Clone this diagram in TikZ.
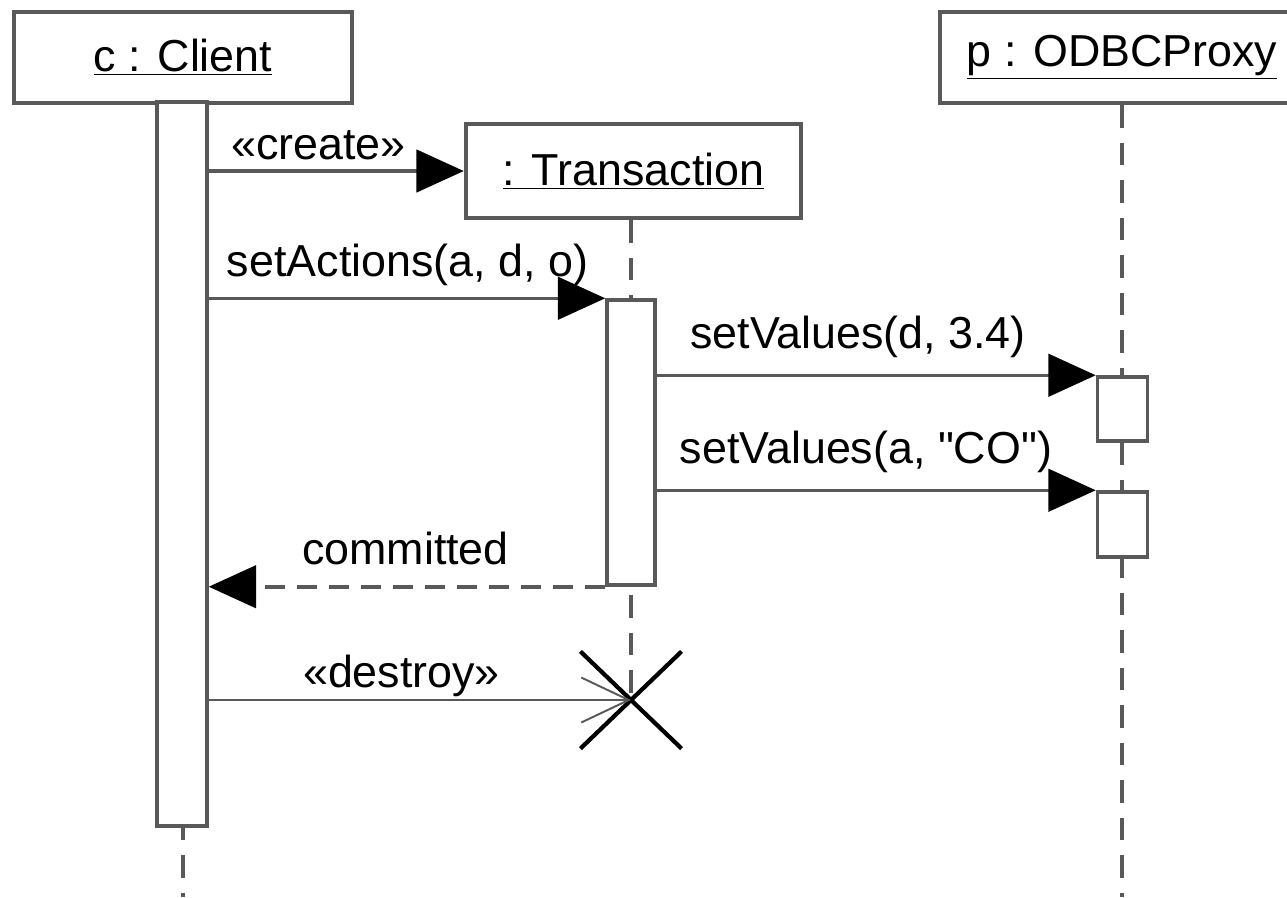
\documentclass[tikz,border=0pt]{standalone}
\usepackage{fontspec}
\setmainfont{Liberation Sans}
\usetikzlibrary{
    arrows.meta,
    calc,
    positioning,
    shapes.misc
}
\definecolor{linegray}{gray}{0.35}
\tikzset{
    every picture/.style = {
        x = 0.02cm,
        y = -0.02cm
    },
    object/.style = {
        draw = linegray,
        line width = 2.6pt,
        fill = white,
        inner sep = 0pt,
        font = \fontsize{25.5}{30}\selectfont
    },
    activation/.style = {
        draw = linegray,
        line width = 2pt,
        fill = white,
        inner sep = 0pt,
        minimum width = 1cm
    },
    lifeline/.style = {
        draw = linegray,
        line width = 1.8pt,
        dash pattern = on 0.45cm off 0.3cm
    },
    call/.style = {
        draw = linegray,
        line width = 2pt,
        -{Triangle[length = 0.95cm, width = 0.85cm, color = black]}
    },
    reply/.style = {
        call,
        dash pattern = on 0.4cm off 0.24cm
    },
    destroycall/.style = {
        draw = linegray,
        line width = 1.1pt,
        -{Straight Barb[length = 0.95cm, width = 0.9cm, line width = 1.1pt]}
    },
    msglabel/.style = {
        inner sep = 0pt,
        font = \fontsize{25.5}{30}\selectfont
    }
}

\begin{document}
\begin{tikzpicture}
    \useasboundingbox (0, 0) rectangle (1287, 897);

    \node[object, minimum width = 6.76cm, minimum height = 1.82cm] (client) at (183, 57.5) {\underline{c : Client}};
    \node[object, minimum width = 7.28cm, minimum height = 1.82cm] (proxy) at (1122, 57.5) {\underline{p : ODBCProxy}};
    \node[object, minimum width = 6.7cm, minimum height = 1.88cm] (trans) at (633.5, 171) {\underline{: Transaction}};

    \coordinate (kill) at (631, 700);
    \coordinate (bottom) at (0, 897);

    % lifelines
    \draw[lifeline] (client.south) -- (client.south |- bottom);
    \draw[lifeline] (kill |- trans.south) -- (kill);
    \draw[lifeline] (proxy.south) -- (proxy.south |- bottom);

    % activations
    \node[activation, minimum height = 14.48cm] (clientact) at (182, 464) {};
    \node[activation, minimum width = 0.96cm, minimum height = 5.7cm] (transact) at (631, 442.5) {};
    \node[activation, minimum height = 1.28cm] (proxyact1) at (1122.5, 409) {};
    \node[activation, minimum height = 1.3cm] (proxyact2) at (1122.5, 524.5) {};

    % messages
    \draw[call] (clientact.east |- trans.west) -- (trans.west);
    \draw[call] (clientact.east |- transact.north west) -- (transact.north west);
    \draw[call] (transact.east |- proxyact1.north west) -- (proxyact1.north west);
    \draw[call] (transact.east |- proxyact2.north west) -- (proxyact2.north west);
    \draw[reply] (transact.south west) -- (clientact.east |- transact.south west);

    \node[draw = black, cross out, line width = 2.4pt, inner sep = 0pt,
          minimum width = 1.94cm, minimum height = 1.86cm] (cross) at (kill) {};
    \draw[destroycall] (clientact.east |- kill) -- (kill);

    \node[msglabel] (createlbl) at (318.5, 145) {«create»};
    \node[msglabel] (actionslbl) at (407.5, 265) {setActions(a, d, o)};
    \node[msglabel] (values1lbl) at (858, 337) {setValues(d, 3.4)};
    \node[msglabel] (values2lbl) at (866, 452) {setValues(a, \textquotedbl CO\textquotedbl)};
    \node[msglabel] (committedlbl) at (405.5, 548) {committed};
    \node[msglabel] (destroylbl) at (401.5, 676) {«destroy»};
\end{tikzpicture}
\end{document}
